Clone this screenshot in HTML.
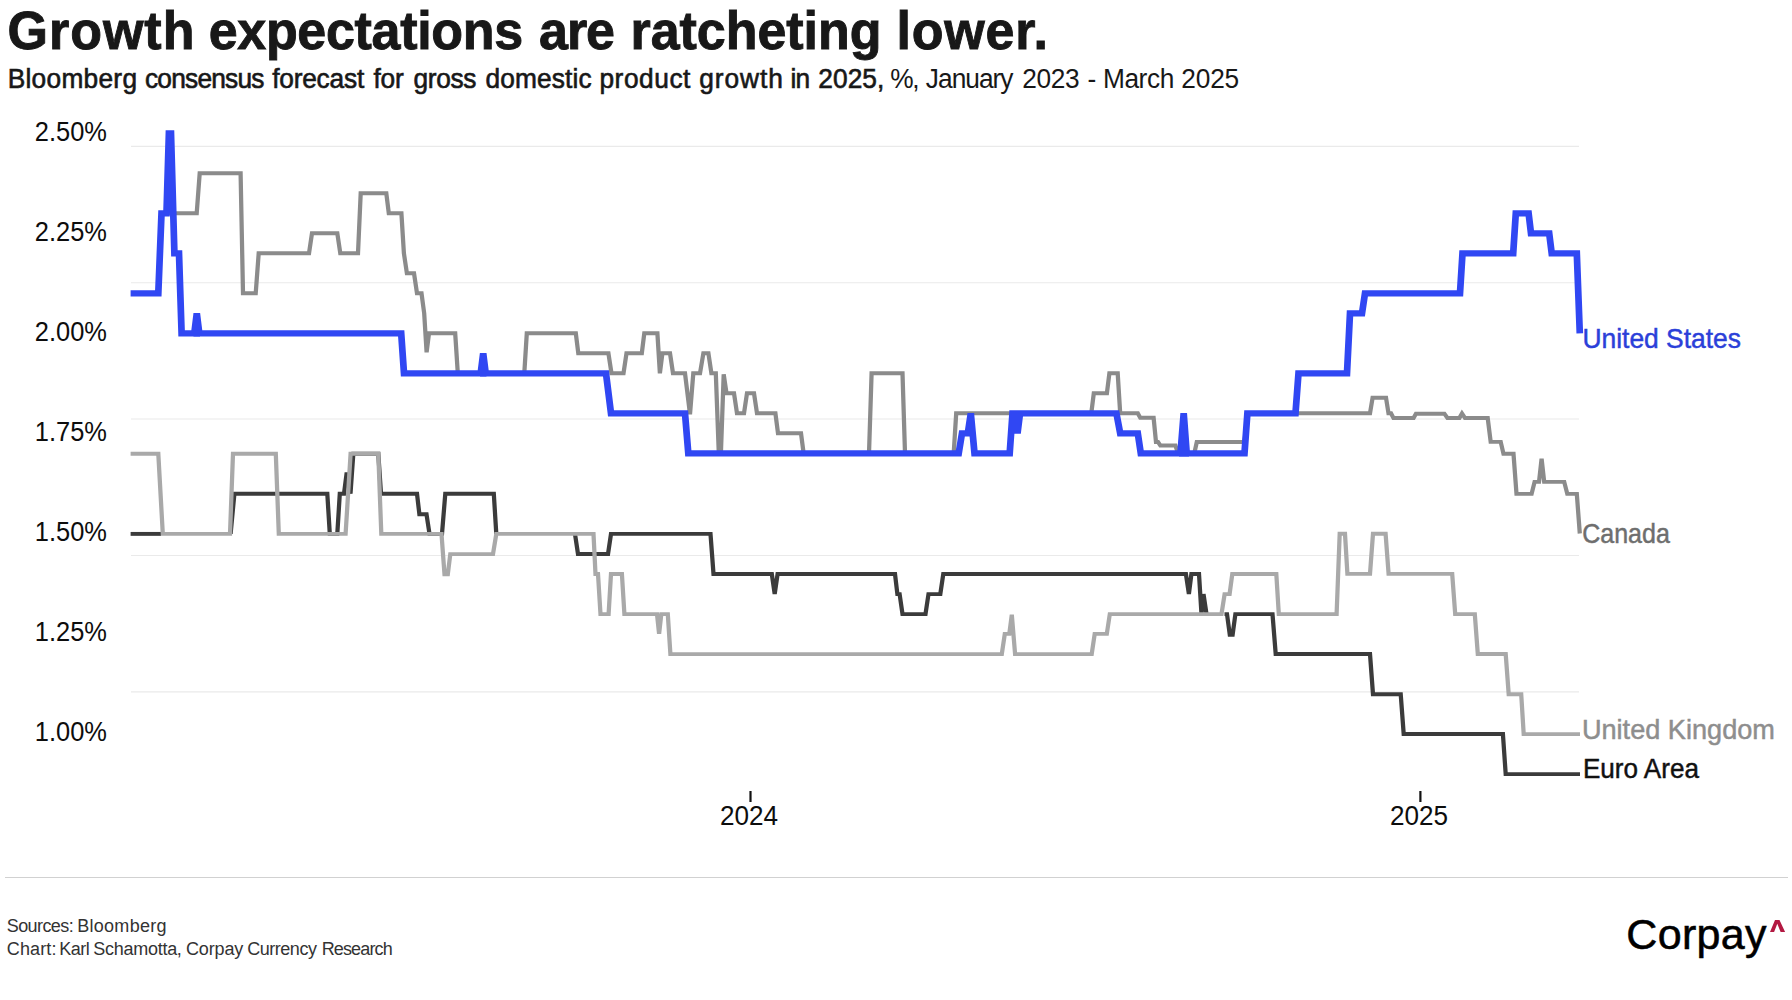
<!DOCTYPE html>
<html lang="en"><head><meta charset="utf-8"><title>Growth expectations are ratcheting lower.</title>
<style>
html,body{margin:0;padding:0;background:#fff;}
body{width:1792px;height:1000px;position:relative;overflow:hidden;font-family:"Liberation Sans",sans-serif;color:#181818;}
h1{position:absolute;left:6.5px;top:0.32px;margin:0;font-size:52px;line-height:60px;font-weight:bold;color:#181818;-webkit-text-stroke-width:0.9px;white-space:nowrap;transform:translateY(1.15px) scaleY(1.02);transform-origin:0 48.03px;}
p.sub{position:absolute;left:6.8px;top:62.63px;margin:0;font-size:26.3px;line-height:32px;color:#181818;white-space:nowrap;transform:translateY(-0.3px) scaleY(1.04);transform-origin:0 25.12px;}
.sub b{font-weight:normal;-webkit-text-stroke-width:0.6px;}
svg{position:absolute;left:0;top:0;}
svg text{font-family:"Liberation Sans",sans-serif;}
.ax{font-size:27.8px;fill:#0d0d0d;}
.lbl{font-size:26.5px;stroke-width:0.45px;}
.foot{position:absolute;left:6.6px;margin:0;font-size:18px;line-height:24px;color:#333;white-space:nowrap;}
.f1{top:914px;}
.f2{top:937px;}
.rule{position:absolute;left:5px;width:1783px;top:877px;height:1px;background:#d1d1d1;}
.logo{-webkit-text-stroke:0.55px #000;position:absolute;left:1626.3px;top:907.89px;font-size:43px;line-height:52px;color:#000;letter-spacing:0.34px;white-space:nowrap;}
</style></head><body>
<h1><span style="letter-spacing:0.97px;margin-left:1.08px">Growth</span> <span style="letter-spacing:-0.31px;margin-left:-1.18px">expectations</span> <span style="letter-spacing:-1.08px;margin-left:1.80px">are</span> <span style="letter-spacing:-0.06px;margin-left:2.20px">ratcheting</span> <span style="letter-spacing:0.79px;margin-left:0.76px">lower.</span></h1>
<p class="sub"><b><span style="letter-spacing:0.27px;margin-left:0.90px">Bloomberg</span> <span style="letter-spacing:-0.79px;margin-left:0.42px">consensus</span> <span style="letter-spacing:-0.21px;margin-left:1.20px">forecast</span> <span style="letter-spacing:-0.18px;margin-left:2.14px">for</span> <span style="letter-spacing:-0.31px;margin-left:2.50px">gross</span> <span style="letter-spacing:0.13px;margin-left:2.03px">domestic</span> <span style="letter-spacing:0.54px;margin-left:0.36px">product</span> <span style="letter-spacing:0.97px;margin-left:0.95px">growth</span> <span style="letter-spacing:-0.90px;margin-left:-0.83px">in</span> <span style="letter-spacing:0.05px;margin-left:1.90px">2025,</span></b> <span style="letter-spacing:-1.26px;margin-left:-1.45px">%,</span> <span style="letter-spacing:-0.99px;margin-left:0.14px">January</span> <span style="letter-spacing:-0.36px;margin-left:2.47px">2023</span> <span style="margin-left:0.82px">-</span> <span style="letter-spacing:-0.41px;margin-left:-0.64px">March</span> <span style="letter-spacing:-0.24px;margin-left:0.14px">2025</span></p>
<svg width="1792" height="1000" viewBox="0 0 1792 1000">
<line x1="131" x2="1579" y1="146.3" y2="146.3" stroke="#eaeaea" stroke-width="1.15"/>
<line x1="131" x2="1579" y1="282.7" y2="282.7" stroke="#eaeaea" stroke-width="1.15"/>
<line x1="131" x2="1579" y1="419.0" y2="419.0" stroke="#eaeaea" stroke-width="1.15"/>
<line x1="131" x2="1579" y1="555.5" y2="555.5" stroke="#eaeaea" stroke-width="1.15"/>
<line x1="131" x2="1579" y1="691.8" y2="691.8" stroke="#eaeaea" stroke-width="1.15"/>
<text transform="translate(106.9,141.2) scale(0.915,1)" text-anchor="end" class="ax">2.50%</text>
<text transform="translate(106.9,241.2) scale(0.915,1)" text-anchor="end" class="ax">2.25%</text>
<text transform="translate(106.9,341.2) scale(0.915,1)" text-anchor="end" class="ax">2.00%</text>
<text transform="translate(106.9,441.2) scale(0.915,1)" text-anchor="end" class="ax">1.75%</text>
<text transform="translate(106.9,541.2) scale(0.915,1)" text-anchor="end" class="ax">1.50%</text>
<text transform="translate(106.9,641.2) scale(0.915,1)" text-anchor="end" class="ax">1.25%</text>
<text transform="translate(106.9,741.2) scale(0.915,1)" text-anchor="end" class="ax">1.00%</text>
<line x1="750.5" x2="750.5" y1="791" y2="802" stroke="#111" stroke-width="2.2"/>
<line x1="1420.4" x2="1420.4" y1="791" y2="802" stroke="#111" stroke-width="2.2"/>
<text transform="translate(749,825) scale(0.94,1)" text-anchor="middle" class="ax">2024</text>
<text transform="translate(1419,825) scale(0.94,1)" text-anchor="middle" class="ax">2025</text>
<g fill="none" stroke-linejoin="miter" stroke-linecap="butt" transform="translate(0,0.3) scale(1.09,1)">
<polyline points="119.82,533.6 147.71,533.6" stroke="#3b3b3b" stroke-width="3.9"/>
<polyline points="211.56,533.6 215.05,493.4 300.28,493.4 302.57,533.6 309.45,533.6 311.74,493.4 315.60,493.4 317.89,474.0 319.72,474.0 321.56,493.4 324.13,453.5 347.06,453.5 349.54,493.4 382.57,493.4 384.77,514.0 391.28,514.0 394.04,533.6 405.50,533.6 408.53,493.4 453.03,493.4 455.32,533.6" stroke="#3b3b3b" stroke-width="3.9"/>
<polyline points="527.52,533.6 530.28,553.7 557.80,553.7 560.55,533.6 651.83,533.6 654.59,573.7 708.07,573.7 710.73,593.8 713.39,573.7 821.10,573.7 823.30,593.8 825.32,593.8 827.98,613.8 849.08,613.8 851.83,593.8 862.66,593.8 865.41,573.7 1087.98,573.7 1090.73,593.8 1093.03,573.7 1100.00,573.7 1102.29,613.8 1104.13,593.8 1106.88,613.8" stroke="#3b3b3b" stroke-width="3.9"/>
<polyline points="1123.39,613.8 1125.69,613.8 1128.26,634.4 1130.83,634.4 1133.39,613.8 1167.43,613.8 1170.37,653.7 1256.88,653.7 1259.63,693.9 1285.05,693.9 1287.80,733.7 1378.81,733.7 1381.38,773.8 1449.54,773.8" stroke="#3b3b3b" stroke-width="3.9"/>
<polyline points="119.82,453.5 145.23,453.5 149.36,533.6 211.01,533.6 213.76,453.5 253.03,453.5 255.78,533.6 317.06,533.6 321.65,453.5 347.06,453.5 349.82,533.6 405.05,533.6 407.80,574.0 410.83,574.0 413.12,553.8 452.29,553.8 455.32,533.6 544.50,533.6 546.33,573.7 548.62,573.7 550.92,613.8 558.35,613.8 560.55,573.7 570.55,573.7 572.84,613.8 602.75,613.8 604.68,633.4 606.70,613.8 612.66,613.8 615.05,653.8 919.08,653.8 921.83,633.6 925.96,633.6 928.26,614.4 931.28,653.8 1001.56,653.8 1004.31,633.6 1015.41,633.6 1018.17,613.8 1120.64,613.8 1123.49,593.8 1128.07,593.8 1130.55,573.7 1170.92,573.7 1173.21,613.8 1226.24,613.8 1229.08,533.5 1233.94,533.5 1236.15,573.6 1256.88,573.6 1259.63,533.5 1271.19,533.5 1273.94,573.6 1332.29,573.6 1335.05,613.8 1353.03,613.8 1355.78,653.7 1381.38,653.7 1384.13,693.9 1395.60,693.9 1397.89,733.8 1449.54,733.8" stroke="#a9a9a9" stroke-width="3.9"/>
<polyline points="148.17,213.0 180.46,213.0 183.21,173.0 220.73,173.0 222.94,293.0 234.59,293.0 237.34,253.0 283.49,253.0 286.24,233.0 309.45,233.0 312.20,253.0 328.44,253.0 330.92,193.0 354.40,193.0 356.70,213.0 368.26,213.0 370.55,253.0 373.30,273.0 379.82,273.0 382.57,293.0 386.70,293.0 389.17,313.0 391.38,352.0 393.58,333.0 417.61,333.0 420.00,373.0 481.01,373.0 483.30,333.0 528.26,333.0 530.55,353.0 558.17,353.0 561.01,373.0 572.02,373.0 574.77,353.0 588.81,353.0 591.10,333.0 603.12,333.0 605.41,373.0 607.71,353.0 614.68,353.0 617.43,373.0 628.44,373.0 633.03,414.0 636.06,373.0 642.20,373.0 645.32,353.0 649.91,353.0 652.66,373.0 656.70,373.0 659.45,453.0 661.38,453.0 663.94,374.0 666.51,393.0 673.39,393.0 676.15,413.0 682.57,413.0 685.32,393.0 691.74,393.0 694.50,413.0 711.38,413.0 713.76,433.0 734.86,433.0 737.25,453.0 797.25,453.0 799.63,373.0 827.98,373.0 830.28,453.0 874.95,453.0 877.25,413.0 1001.19,413.0 1003.49,393.0 1015.50,393.0 1017.80,373.0 1025.41,373.0 1027.71,413.0 1043.85,413.0 1046.15,417.5 1058.35,417.5 1060.55,441.7 1062.39,441.7 1064.59,445.2 1078.35,445.2 1080.73,453.0 1095.69,453.0 1097.98,441.7 1141.74,441.7 1144.40,413.0 1256.88,413.0 1259.27,397.4 1271.56,397.4 1273.85,413.0 1276.15,413.0 1278.44,417.7 1296.88,417.7 1299.08,413.4 1325.14,413.4 1327.98,417.7 1338.90,417.7 1341.28,413.2 1344.04,417.7 1364.86,417.7 1367.61,441.6 1376.79,441.6 1379.36,453.5 1388.53,453.5 1391.28,493.6 1405.14,493.6 1407.89,481.6 1411.93,481.6 1414.31,458.4 1416.70,481.6 1435.05,481.6 1437.89,493.6 1446.61,493.6 1449.36,533.2" stroke="#8b8b8b" stroke-width="3.9"/>
<path d="M177.5,333H183.5M440.4,373H446.3M1081.7,453H1090.8" stroke="#3047f3" stroke-width="6.15"/>
<polyline points="119.82,293.0 145.23,293.0 148.17,213.0 152.75,213.0 154.95,133.0 156.88,133.0 160.00,253.0 164.22,253.0 166.61,333.0 178.26,333.0 180.55,313.0 182.84,333.0 368.07,333.0 370.64,373.0 441.01,373.0 443.30,353.0 445.60,373.0 555.96,373.0 560.55,413.0 628.44,413.0 631.47,453.0 879.54,453.0 882.57,433.0 887.89,433.0 890.64,413.0 894.04,453.0 926.33,453.0 928.90,413.0 931.19,413.0 933.49,433.0 935.78,413.0 1024.22,413.0 1027.71,433.0 1043.85,433.0 1046.61,453.0 1083.03,453.0 1085.96,413.0 1088.72,453.0 1141.74,453.0 1144.40,413.0 1188.53,413.0 1191.28,373.0 1235.78,373.0 1238.53,313.0 1249.54,313.0 1252.29,293.0 1339.45,293.0 1341.74,253.0 1388.26,253.0 1390.64,213.0 1402.39,213.0 1404.59,233.0 1421.28,233.0 1423.58,253.0 1446.61,253.0 1449.36,333.0" stroke="#3047f3" stroke-width="6.15"/>
</g>
<text transform="translate(1582.4,347.9) scale(0.997,1.067)" class="lbl" fill="#2b3fd9" stroke="#2b3fd9">United States</text>
<text transform="translate(1582.2,543.2) scale(0.945,1.067)" class="lbl" fill="#6e6e6e" stroke="#6e6e6e">Canada</text>
<text transform="translate(1581.9,738.8) scale(1.024,1.067)" class="lbl" fill="#8e8e8e" stroke="#8e8e8e">United Kingdom</text>
<text transform="translate(1582.9,778.2) scale(0.985,1.067)" class="lbl" fill="#111" stroke="#111">Euro Area</text>
<polygon points="1775,919.9 1779.5,919.9 1785.1,931.9 1780.6,931.9 1777.3,923.8 1774.1,931.9 1770,931.9" fill="#b31942"/>
</svg>
<div class="rule"></div>
<p class="foot f1"><span style="letter-spacing:-0.59px;margin-left:0.18px">Sources:</span> <span style="letter-spacing:0.29px;margin-left:-0.94px">Bloomberg</span></p>
<p class="foot f2"><span style="letter-spacing:0.14px;margin-left:0.18px">Chart:</span> <span style="letter-spacing:-0.54px;margin-left:-2.38px">Karl</span> <span style="letter-spacing:-0.28px;margin-left:-0.81px">Schamotta,</span> <span style="letter-spacing:-0.14px;margin-left:-0.62px">Corpay</span> <span style="letter-spacing:-0.49px;margin-left:-0.90px">Currency</span> <span style="letter-spacing:-0.85px;margin-left:0.19px">Research</span></p>
<div class="logo">Corpay</div>
</body></html>
